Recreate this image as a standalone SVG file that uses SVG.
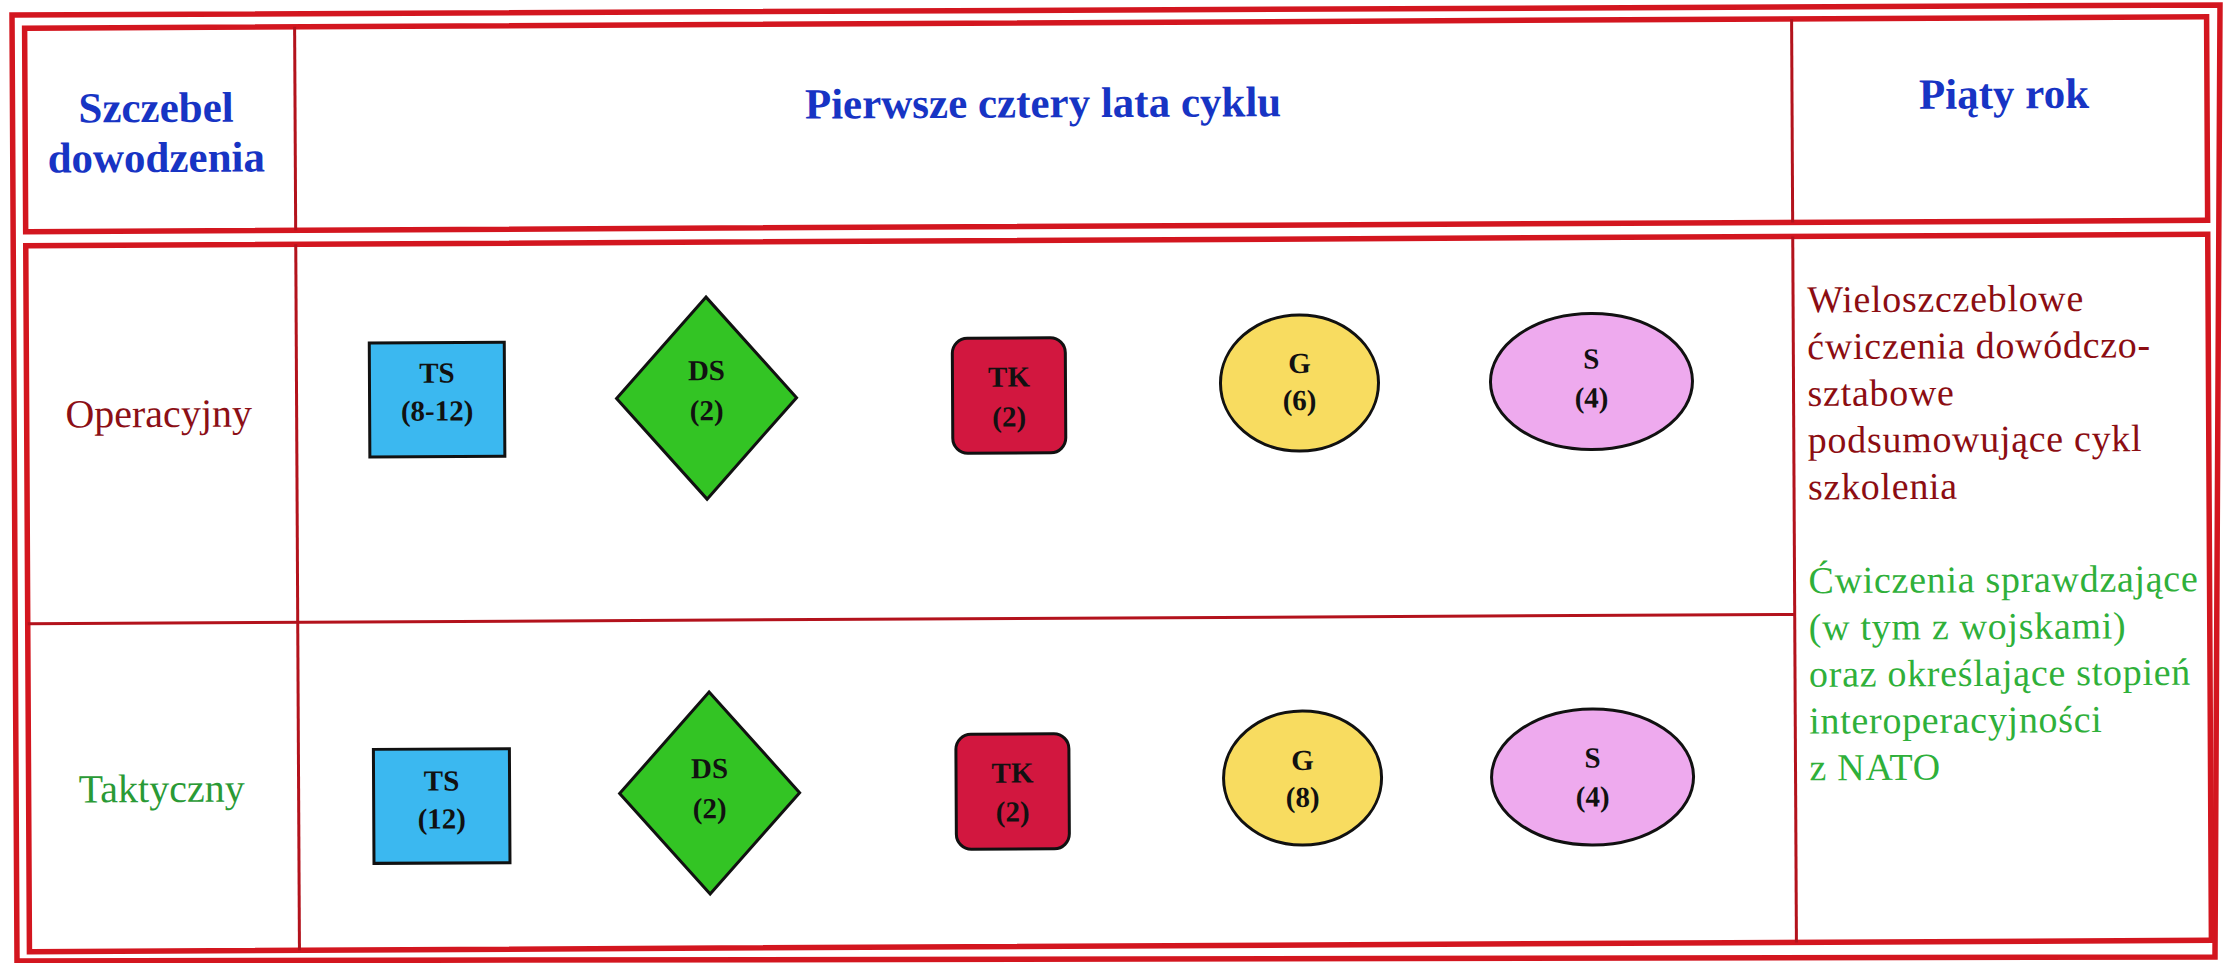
<svg xmlns="http://www.w3.org/2000/svg" width="2224" height="963" viewBox="0 0 2224 963">
<style>
.frame{fill:none;stroke:#d3161f;stroke-width:5.5}
.div{fill:none;stroke:#b3121c;stroke-width:3}
.hdr{font-family:"Liberation Serif",serif;font-weight:bold;font-size:43px;fill:#1734c4;text-anchor:middle}
.row{font-family:"Liberation Serif",serif;font-size:40px;text-anchor:middle}
.lbl{font-family:"Liberation Serif",serif;font-weight:bold;font-size:29px;fill:#111;text-anchor:middle}
.shape{stroke:#111;stroke-width:3}
.note{font-family:"Liberation Serif",serif;font-size:38px;letter-spacing:0.7px}
</style>
<rect width="2224" height="963" fill="#ffffff"/>
<polygon class="frame" points="12,15 2220,5 2215,957 17,961"/>
<g transform="rotate(-0.3 1112 481)">
  <g id="table">
    <rect class="frame" x="27" y="22.5" width="2182" height="203.5"/>
    <rect class="frame" x="27" y="240" width="2182" height="706"/>
    <line class="div" x1="297" y1="22.5" x2="297" y2="226"/>
    <line class="div" x1="1794" y1="22.5" x2="1794" y2="226"/>
    <line class="div" x1="297" y1="240" x2="297" y2="946"/>
    <line class="div" x1="1794" y1="240" x2="1794" y2="946"/>
    <line class="div" x1="27" y1="618" x2="1794" y2="618"/>
  </g>
  <g id="headers">
    <text class="hdr" x="158" y="117">Szczebel</text>
    <text class="hdr" x="158" y="167">dowodzenia</text>
    <text class="hdr" x="1045" y="117">Pierwsze cztery lata cyklu</text>
    <text class="hdr" x="2006" y="113">Piąty rok</text>
  </g>
  <g id="row-labels">
    <text class="row" x="159" y="422" fill="#8c0f16">Operacyjny</text>
    <text class="row" x="160" y="797" fill="#2a9a35">Taktyczny</text>
  </g>
  <g id="op-TS">
    <rect class="shape" x="370" y="339" width="135" height="114" fill="#3bb8f0"/>
    <text class="lbl" x="437.5" y="379">TS</text>
    <text class="lbl" x="437.5" y="417">(8-12)</text>
  </g>
  <g id="op-DS">
    <polygon class="shape" points="707,295 797,396 707,497 617,396" fill="#33c424"/>
    <text class="lbl" x="707" y="378">DS</text>
    <text class="lbl" x="707" y="418">(2)</text>
  </g>
  <g id="op-TK">
    <rect class="shape" x="953" y="337.5" width="113" height="115" rx="15" fill="#d2173f"/>
    <text class="lbl" x="1009.5" y="386">TK</text>
    <text class="lbl" x="1009.5" y="426">(2)</text>
  </g>
  <g id="op-G">
    <ellipse class="shape" cx="1300" cy="384" rx="79" ry="68" fill="#f8dc60"/>
    <text class="lbl" x="1300" y="374">G</text>
    <text class="lbl" x="1300" y="411">(6)</text>
  </g>
  <g id="op-S">
    <ellipse class="shape" cx="1592" cy="384" rx="101" ry="68" fill="#eeaaee"/>
    <text class="lbl" x="1592" y="371">S</text>
    <text class="lbl" x="1592" y="410">(4)</text>
  </g>
  <g id="tac-TS">
    <rect class="shape" x="372" y="745.5" width="136" height="114" fill="#3bb8f0"/>
    <text class="lbl" x="440" y="787">TS</text>
    <text class="lbl" x="440" y="825">(12)</text>
  </g>
  <g id="tac-DS">
    <polygon class="shape" points="708,690 798,791 708,892 618,791" fill="#33c424"/>
    <text class="lbl" x="708" y="776">DS</text>
    <text class="lbl" x="708" y="816">(2)</text>
  </g>
  <g id="tac-TK">
    <rect class="shape" x="954.5" y="733.5" width="113" height="115" rx="15" fill="#d2173f"/>
    <text class="lbl" x="1011" y="782">TK</text>
    <text class="lbl" x="1011" y="821">(2)</text>
  </g>
  <g id="tac-G">
    <ellipse class="shape" cx="1301" cy="779" rx="79" ry="67" fill="#f8dc60"/>
    <text class="lbl" x="1301" y="771">G</text>
    <text class="lbl" x="1301" y="808">(8)</text>
  </g>
  <g id="tac-S">
    <ellipse class="shape" cx="1591" cy="779.5" rx="101" ry="68" fill="#eeaaee"/>
    <text class="lbl" x="1591" y="770">S</text>
    <text class="lbl" x="1591" y="809">(4)</text>
  </g>
  <g id="fifth-year">
    <text class="note" fill="#8c0d12">
      <tspan x="1808" y="316">Wieloszczeblowe</tspan>
      <tspan x="1808" y="362.8">ćwiczenia dowódczo-</tspan>
      <tspan x="1808" y="409.6">sztabowe</tspan>
      <tspan x="1808" y="456.4">podsumowujące cykl</tspan>
      <tspan x="1808" y="503.2">szkolenia</tspan>
    </text>
    <text class="note" fill="#2fb03a">
      <tspan x="1808" y="596.8">Ćwiczenia sprawdzające</tspan>
      <tspan x="1808" y="643.6">(w tym z wojskami)</tspan>
      <tspan x="1808" y="690.4">oraz określające stopień</tspan>
      <tspan x="1808" y="737.2">interoperacyjności</tspan>
      <tspan x="1808" y="784">z NATO</tspan>
    </text>
  </g>
  <g id="connectors"/>
</g>
</svg>
